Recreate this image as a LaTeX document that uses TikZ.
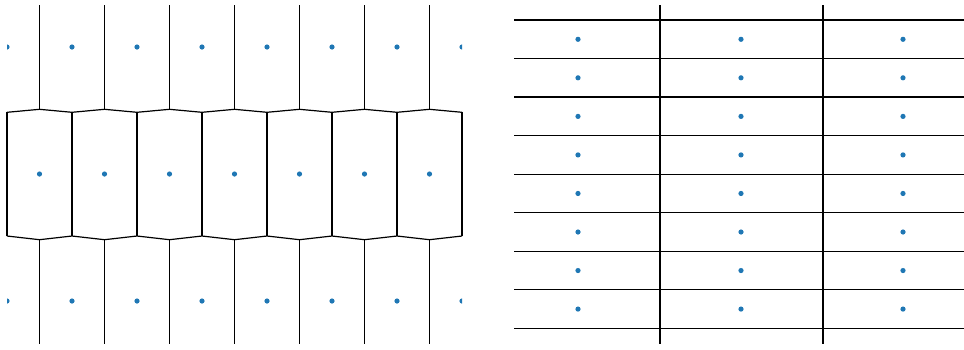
\documentclass[tikz,border=0pt]{standalone}
\definecolor{mplblue}{HTML}{1F77B4}
\begin{document}
\begin{tikzpicture}[x=1pt,y=-1pt,
  edge/.style={draw=black,line width=1.2pt,line join=miter},
  site/.style={fill=mplblue,draw=none}]
\useasboundingbox (0,0) rectangle (964,349);
% ---------- left panel: edges ----------
\begin{scope}
\clip (6,5) rectangle (463,344);
\foreach \k in {0,...,6}{
  \pgfmathsetmacro{\xx}{39.5+65*\k}
  \draw[edge] (\xx,5) -- (\xx,109.3);
  \draw[edge] (\xx,239.7) -- (\xx,344);
}
\foreach \k in {0,...,7}{
  \pgfmathsetmacro{\xx}{7+65*\k}
  \draw[edge] (\xx,112.3) -- (\xx,236);
}
\draw[edge] (7,112.3) \foreach \k in {0,...,6}{ -- ({39.5+65*\k},109.3) -- ({72+65*\k},112.3)};
\draw[edge] (7,236) \foreach \k in {0,...,6}{ -- ({39.5+65*\k},239.7) -- ({72+65*\k},236)};
\end{scope}
% ---------- left panel: sites ----------
\begin{scope}
\clip (7,5) rectangle (462,344);
\foreach \k in {0,...,7}{
  \fill[site] ({7+65*\k},47) circle (2.6);
  \fill[site] ({7+65*\k},301) circle (2.6);
}
\foreach \k in {0,...,6}{
  \fill[site] ({39.5+65*\k},174) circle (2.6);
}
\end{scope}
% ---------- right panel ----------
\begin{scope}
\clip (514,5) rectangle (964,344);
\foreach \k in {0,...,8}{
  \pgfmathsetmacro{\yy}{20+38.54*\k}
  \draw[edge] (514,\yy) -- (964,\yy);
}
\draw[edge] (660,5) -- (660,344);
\draw[edge] (823,5) -- (823,344);
\foreach \k in {0,...,7}{
  \pgfmathsetmacro{\yy}{39.3+38.54*\k}
  \fill[site] (578,\yy) circle (2.6);
  \fill[site] (741,\yy) circle (2.6);
  \fill[site] (903,\yy) circle (2.6);
}
\end{scope}
\end{tikzpicture}
\end{document}
